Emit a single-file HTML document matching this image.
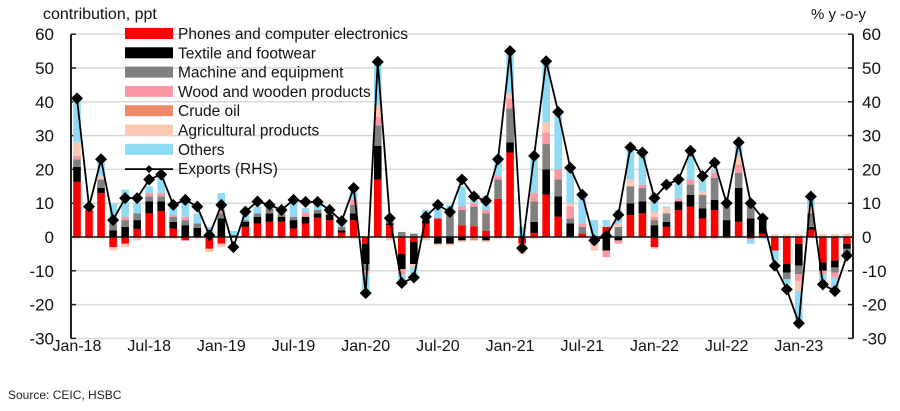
<!DOCTYPE html>
<html><head><meta charset="utf-8"><style>
body{margin:0;background:#fff;width:900px;height:406px;overflow:hidden;font-family:"Liberation Sans",Arial,sans-serif}
svg text{font-family:"Liberation Sans",Arial,sans-serif}
</style></head><body>
<svg id="c" width="900" height="406" xmlns="http://www.w3.org/2000/svg"></svg>
<script>
const S=document.getElementById('c');
const Y0=237,K=3.38,X0=77,DX=12.03,L=71,R=853;
const y=v=>Y0-v*K, x=i=>X0+i*DX;
let h='';
for(let v=-30;v<=60;v+=10){ if(v!==0) h+=`<line x1="${L}" x2="${R}" y1="${y(v)}" y2="${y(v)}" stroke="#d9d9d9" stroke-width="1.5"/>`;
 h+=`<text x="54" y="${y(v)+6}" font-size="17" text-anchor="end" fill="#111">${v}</text>`;
 h+=`<text x="862" y="${y(v)+6}" font-size="17" fill="#111">${v}</text>`;
 h+=`<line x1="${L}" x2="${L+5}" y1="${y(v)}" y2="${y(v)}" stroke="#222" stroke-width="1.5"/><line x1="${R-5}" x2="${R}" y1="${y(v)}" y2="${y(v)}" stroke="#222" stroke-width="1.5"/>`;}
const C={r:'#ff0000',k:'#000000',g:'#808080',p:'#fb98a4',c:'#ef8a68',a:'#fcc8b2',o:'#8fdbf6'};
const pos=["r16.3 k20.7 g23 p24 a28 o41","r8","r13 k14.5 g17 a18 o22","k2 g4 o10","k3 g5 p6 o14","r2.4 k5 g7 o10","r7 k10.5 g12 p13 o15","r7.7 k10.5 g12 p13 o18","r2.5 k4.5 g6 p6.5 o9.5","k3.5 g5 p6 o11","k2.7 g4 o7","o3","k5.5 g7 p8 o13","k0.5 o1.8","r3 k4.5 g5 o7","r4 k6 g7 o9","r4.5 k7 g8.5 o9","r4.5 k6 g7 o8","r2.5 k5 g6 o10","r4 k6 p7.3 o8.6","r5.7 k7 g8 o10","r5 k6.5 g7 o8","r1.3 k2 g3 o4","r5 k7 g9.5 p11 o14","","r17 k27 g33 p35.5 a39 o51","r3.5 k4 g5","g1.5","g1","r4 k5 p6 o8","r5.5 o10","g7 p8 o9.5","r3.5 g8 p9 o15","r3.2 g9 p10 o13","r1.8 g7 p8 o12","r11.3 g17 p18 o23","r25 k28 g38 p41 a42.5 o55","o3","r1.2 k4.5 g10.5 p13 o24","r12.5 k20 g27.5 p31 a34 o52","r6 k12 g17 p20 o37","k4 g5.5 p9 a10 o20","r1 g3 p4 o12","o5","r3 o5","g3 a4 o8","r6.5 k10 g15 a17 o26.5","r7 k10.5 g14.5 p15.5 o25","k3.5 g5 p6 a7.5 o13","r3 k4.5 g7 a8.5 o9","r8 k10.5 p11.5 o16","r9 k12.5 g15.5 p17 o25","r5.5 k8.5 g12.5 a13.5 o17","r8 k11 g17.5 p19 o20","k5 g9 o10","r4.5 k14.5 g19 p21.5 a24 o27","k5.5 g9.5","r1 k5","a0.8","a0.8","a0.8","r2.2 k3 g7 a8.5 o11","a0.8","a0.8","a1"];
const neg=["a-0.5","a-0.5","a-0.5","r-3 a-4","r-2 a-3","a-1","a-0.5","a-0.5","a-0.5","r-1","a-0.5","r-3.5 a-4.5","r-2 a-3","","","a-0.5","a-0.5","a-0.5","a-0.5","a-0.5","a-0.5","a-0.5","a-0.5","a-0.5","r-2 k-8 g-10 p-11 o-16","","a-1","r-5 k-9.5 p-11 o-14","r-1.5 k-8 a-9 o-11","a-1","k-2 a-2.5","k-2 a-2.5","k-1 a-1.5","c-1","k-1 a-1.5","a-0.5","a-0.5","r-2 a-5","a-0.5","","","","","k-1 p-2.5 a-4","k-4 p-6","k-1 p-2","","","r-3 a-3.5","a-0.5","a-0.5","a-0.5","a-0.5","a-0.5","a-0.5","","r-0.5 o-2","o-0.5","r-4 o-7","r-8 k-10.5 g-12.5 o-14","r-2 k-8.5 g-11 p-13 a-16 o-25","","r-7.5 k-10 p-11 o-13","r-7 k-9 g-10.5 p-12 o-16","r-2 k-3.5 g-5"];
function seg(str,i){ if(!str) return; let prev=0; str.split(' ').forEach(t=>{const col=C[t[0]],v=parseFloat(t.slice(1));
 const a=y(prev),b=y(v); h+=`<rect x="${x(i)-3.8}" y="${Math.min(a,b)}" width="7.6" height="${Math.abs(a-b)}" fill="${col}"/>`; prev=v;});}
pos.forEach((s,i)=>seg(s,i)); neg.forEach((s,i)=>seg(s,i));
h+=`<line x1="${L}" x2="${R}" y1="${Y0}" y2="${Y0}" stroke="#111" stroke-width="1.5"/>`;
h+=`<line x1="${L}" x2="${L}" y1="${y(60)}" y2="${y(-30)}" stroke="#222" stroke-width="2"/><line x1="${R}" x2="${R}" y1="${y(60)}" y2="${y(-30)}" stroke="#222" stroke-width="2"/>`;
const ex=[41,9,23,5,11.5,11.5,17,18.5,9.5,11,9,0.5,9.5,-3,7.5,10.5,9.5,8,11,10.4,10.4,8,4.7,14.5,-16.6,51.8,5.6,-13.6,-12,6,9.5,7.4,17,12,10.7,23,55,-3.3,24,52,37,20.5,12.5,-1,0.3,6.5,26.5,25,11.5,15.5,17,25.5,18,22,10,28,10,5.5,-8.5,-15.5,-25.5,12,-14,-16,-5.5];
h+=`<polyline fill="none" stroke="#000" stroke-width="1.8" points="${ex.map((v,i)=>x(i)+','+y(v)).join(' ')}"/>`;
ex.forEach((v,i)=>{const X=x(i),Yv=y(v);h+=`<polygon points="${X},${Yv-6} ${X+6},${Yv} ${X},${Yv+6} ${X-6},${Yv}" fill="#000"/>`;});
["Jan-18","Jul-18","Jan-19","Jul-19","Jan-20","Jul-20","Jan-21","Jul-21","Jan-22","Jul-22","Jan-23"].forEach((t,k)=>{h+=`<text x="${x(k*6)}" y="351" font-size="16" text-anchor="middle" fill="#111">${t}</text>`;});
h+=`<text x="43" y="19" font-size="16" fill="#111">contribution, ppt</text><text x="866" y="19" font-size="15" text-anchor="end" fill="#111">% y -o-y</text>`;
h+=`<text x="8" y="399" font-size="12" fill="#222">Source: CEIC, HSBC</text>`;
const lg=[['r','Phones and computer electronics'],['k','Textile and footwear'],['g','Machine and equipment'],['p','Wood and wooden products'],['c','Crude oil'],['a','Agricultural products'],['o','Others']];
lg.forEach((l,j)=>{const yy=34+j*19.3;h+=`<rect x="125" y="${yy-6}" width="48" height="11" fill="${C[l[0]]}"/><text x="178" y="${yy+5}" font-size="15.5" fill="#111">${l[1]}</text>`;});
const yy=34+7*19.3;h+=`<line x1="125" x2="173" y1="${yy}" y2="${yy}" stroke="#000" stroke-width="1.8"/><polygon points="149,${yy-4} 153,${yy} 149,${yy+4} 145,${yy}" fill="#000"/><text x="178" y="${yy+5}" font-size="15.5" fill="#111">Exports (RHS)</text>`;
S.innerHTML=h;
</script>
</body></html>
